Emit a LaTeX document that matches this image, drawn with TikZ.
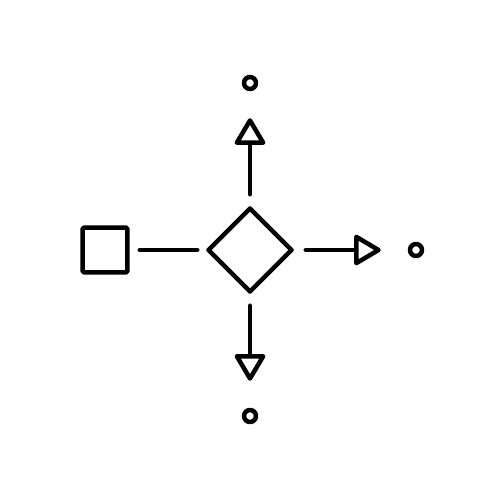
\documentclass[tikz,border=0pt]{standalone}
\usepackage{tikz}
\usetikzlibrary{shapes.geometric,arrows.meta}
\tikzset{
  shp/.style={draw=black, line width=0.09cm, inner sep=0pt, line join=round},
  box/.style={shp, rectangle, rounded corners=0.03cm, minimum size=0.9cm},
  dia/.style={shp, diamond, minimum size=1.7cm},
  dot/.style={shp, circle, minimum size=0.24cm},
  link/.style={draw=black, line width=0.09cm, line cap=round},
  flow/.style={link, -{Triangle[open, length=0.58cm, width=0.66cm, line join=round]},
    shorten <=0.22cm, shorten >=0.54cm},
}
\begin{document}
\begin{tikzpicture}[x=0.02cm, y=-0.02cm]
\useasboundingbox (0,0) rectangle (500,500);
\node[box] (sq) at (105,250) {};
\node[dia] (dm) at (250,250) {};
\node[dot] (top) at (250,83) {};
\node[dot] (rgt) at (416,250) {};
\node[dot] (bot) at (250,416) {};
\draw[link, shorten <=0.2cm, shorten >=0.16cm] (sq) -- (dm);
\draw[flow] (dm) -- (top);
\draw[flow] (dm) -- (rgt);
\draw[flow] (dm) -- (bot);
\end{tikzpicture}
\end{document}
